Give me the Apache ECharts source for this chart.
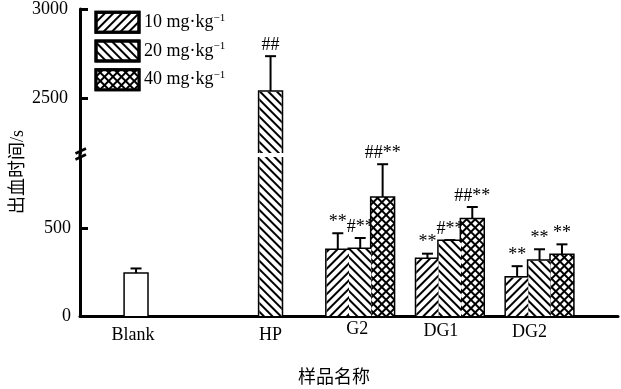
<!DOCTYPE html>
<html><head><meta charset="utf-8">
<script src="https://cdn.jsdelivr.net/npm/echarts@6/dist/echarts.min.js"></script>
<style>html,body{margin:0;padding:0;background:#fff}#c{width:621px;height:389px}</style>
</head><body><div id="c"></div>
<script>
// ---------- data ----------
const groups = ['Blank', 'HP', 'G2', 'DG1', 'DG2'];
const doseNames = ['10 mg·kg⁻¹', '20 mg·kg⁻¹', '40 mg·kg⁻¹'];
const blankValue = [240];
const blankError = [30];
const hpValue = [2535];          // 20 mg·kg⁻¹
const hpError = [200];
const hpSig = ['##'];
const g2Value = [375, 381, 672];
const g2Error = [95, 62, 190];
const g2Sig = ['**', '#**', '##**'];
const dg1Value = [324, 426, 549];
const dg1Error = [30, 5, 70];
const dg1Sig = ['**', '#**', '##**'];
const dg2Value = [218, 314, 347];
const dg2Error = [65, 65, 60];
const dg2Sig = ['**', '**', '**'];
const yTicksHigh = [2500, 3000];
const yTicksLow = [0, 500];
const xTitle = '样品名称';
const yTitle = '出血时间/s';

// ---------- layout helpers ----------
const SLOTS = 24;
const groupSlot = { Blank: 2, HP: 8, G2: 12, DG1: 16, DG2: 20 };
const labelNudge = { Blank: [-3, 6], HP: [0, 6], G2: [-3, 0], DG1: [-9, 2], DG2: [-10, 3] };
const font = '"Liberation Serif", "Times New Roman", "Noto Sans CJK SC", serif';

const records = []; // {slot, value, err, sig, series}
records.push({ slot: groupSlot.Blank, value: blankValue[0], err: blankError[0], sig: '', series: -1 });
records.push({ slot: groupSlot.HP, value: hpValue[0], err: hpError[0], sig: hpSig[0], series: 1 });
[['G2', g2Value, g2Error, g2Sig], ['DG1', dg1Value, dg1Error, dg1Sig], ['DG2', dg2Value, dg2Error, dg2Sig]]
  .forEach(([g, vals, errs, sigs]) => vals.forEach((v, d) =>
    records.push({ slot: groupSlot[g] + d - 1, value: v, err: errs[d], sig: sigs[d], series: d })));

function seriesData(sIdx) {
  const arr = new Array(SLOTS).fill(null);
  records.forEach(r => { if (r.series === sIdx) arr[r.slot] = r.value; });
  return arr;
}
const cats = new Array(SLOTS).fill('');
const catsLabeled = cats.map((c, i) => {
  const g = groups.find(k => groupSlot[k] === i);
  if (!g) return '';
  const [dx, dy] = labelNudge[g];
  return { value: g, textStyle: { padding: [Math.max(dy, 0), dx < 0 ? -2 * dx : 0, 0, dx > 0 ? 2 * dx : 0] } };
});

const decals = [
  { symbol: 'rect', symbolSize: 1, color: '#000', dashArrayX: [1, 0], dashArrayY: [2, 4], rotation: -Math.PI / 4 },
  { symbol: 'rect', symbolSize: 1, color: '#000', dashArrayX: [1, 0], dashArrayY: [2, 4], rotation: Math.PI / 4 },
  { symbol: 'rect', symbolSize: 1, color: '#fff', dashArrayX: [4, 2], dashArrayY: [4, 2], rotation: Math.PI / 4 }
];
const fills = ['#fff', '#fff', '#000'];

function renderOutline(params, api) {
  const rect = params.coordSys;
  const slot = api.value(0), v = api.value(1);
  const top = api.coord([slot, v]);
  const base = api.coord([slot, 0]);
  const band = api.size([1, 0])[0];
  const gTop = rect.y, gBot = rect.y + rect.height;
  if (top[1] > gBot || base[1] < gTop) return null;
  const yT = Math.max(top[1], gTop), yB = Math.min(base[1], gBot);
  const l = top[0] - band / 2, r = top[0] + band / 2;
  const st = { stroke: '#000', lineWidth: 3, fill: null };
  const ch = [];
  if (top[1] >= gTop) {
    ch.push({ type: 'polyline', shape: { points: [[l, yB], [l, yT], [r, yT], [r, yB]] }, style: st });
  } else {
    ch.push({ type: 'line', shape: { x1: l, y1: yB, x2: l, y2: yT }, style: st });
    ch.push({ type: 'line', shape: { x1: r, y1: yB, x2: r, y2: yT }, style: st });
  }
  return { type: 'group', children: ch };
}
function renderErr(params, api) {
  const rect = params.coordSys;
  const slot = api.value(0), v = api.value(1), e = api.value(2), ri = api.value(3);
  const mid = api.coord([slot, v]);
  if (mid[1] < rect.y - 1 || mid[1] > rect.y + rect.height + 1) return null;
  const top = api.coord([slot, v + e]);
  const bot = api.coord([slot, v - e]);
  const x = mid[0], cap = 5.5;
  const st = { stroke: '#000', lineWidth: 2 };
  const ch = [
    { type: 'line', shape: { x1: x, y1: top[1], x2: x, y2: bot[1] }, style: st },
    { type: 'line', shape: { x1: x - cap, y1: top[1], x2: x + cap, y2: top[1] }, style: st },
    { type: 'line', shape: { x1: x - cap, y1: bot[1], x2: x + cap, y2: bot[1] }, style: st }
  ];
  const sig = records[ri].sig;
  if (sig) ch.push({ type: 'text', x: x, y: top[1] - 2,
    style: { text: sig, align: 'center', verticalAlign: 'bottom', fontSize: 18, fontFamily: font, fill: '#000' } });
  return { type: 'group', children: ch };
}

const series = [];
[0, 1].forEach(g => {
  series.push({ type: 'bar', name: 'Blank', xAxisIndex: g, yAxisIndex: g, data: seriesData(-1),
    barWidth: '100%', barGap: '-100%', itemStyle: { color: '#fff', borderWidth: 0 }, silent: true });
  doseNames.forEach((n, d) => series.push({ type: 'bar', name: n, xAxisIndex: g, yAxisIndex: g, data: seriesData(d),
    barWidth: '100%', barGap: '-100%', itemStyle: { color: fills[d], decal: decals[d], borderWidth: 0 }, silent: true }));
  series.push({ type: 'custom', xAxisIndex: g, yAxisIndex: g, renderItem: renderOutline, silent: true,
    data: records.map(r => [r.slot, r.value]) });
  series.push({ type: 'custom', xAxisIndex: g, yAxisIndex: g, renderItem: renderErr, silent: true,
    data: records.map((r, i) => [r.slot, r.value, r.err, i]) });
});

const axisLabelStyle = { color: '#000', fontSize: 18, fontFamily: font, formatter: v => String(v) };
const option = {
  animation: false,
  backgroundColor: '#fff',
  grid: [
    { left: 80, right: 3, top: 9, height: 144 },
    { left: 80, right: 3, top: 157, height: 159 }
  ],
  xAxis: [
    { gridIndex: 0, type: 'category', data: cats, show: false },
    { gridIndex: 1, type: 'category', data: catsLabeled,
      axisLine: { lineStyle: { color: '#000', width: 3 } },
      axisTick: { inside: true, length: 7, interval: 3, lineStyle: { color: '#000', width: 3 } },
      axisLabel: { interval: 0, margin: 4, color: '#000', fontSize: 18, fontFamily: font } }
  ],
  yAxis: [
    { gridIndex: 0, type: 'value', min: 2191, max: 3000,
      axisLine: { show: true, lineStyle: { color: '#000', width: 3 } },
      axisTick: { show: true, inside: true, length: 8, customValues: yTicksHigh, lineStyle: { color: '#000', width: 3 } },
      axisLabel: Object.assign({ customValues: yTicksHigh, margin: 12 }, axisLabelStyle),
      splitLine: { show: false } },
    { gridIndex: 1, type: 'value', min: 0, max: 903,
      axisLine: { show: true, lineStyle: { color: '#000', width: 3 } },
      axisTick: { show: true, inside: true, length: 8, customValues: yTicksLow, lineStyle: { color: '#000', width: 3 } },
      axisLabel: Object.assign({ customValues: yTicksLow, margin: 9 }, axisLabelStyle),
      splitLine: { show: false } }
  ],
  legend: {
    data: doseNames, orient: 'vertical', left: 94.5, top: 10.8, padding: 0,
    itemWidth: 43, itemHeight: 20, itemGap: 5.7, itemTextGap: 7, icon: 'rect', selectedMode: false,
    itemStyle: { borderColor: '#000', borderWidth: 3 },
    formatter: n => '{t|' + n.replace('⁻¹', '') + '}{s|−1}',
    textStyle: { color: '#000', fontFamily: font, fontSize: 18,
      rich: { t: { fontSize: 18, lineHeight: 20, fontFamily: font, color: '#000' },
              s: { fontSize: 11, lineHeight: 12, verticalAlign: 'top', fontFamily: font, color: '#000' } } }
  },
  graphic: [
    { type: 'text', x: 18, y: 172, rotation: Math.PI / 2,
      style: { text: yTitle, fontSize: 18, fontFamily: font, fill: '#000', align: 'center', verticalAlign: 'middle' } },
    { type: 'text', x: 334, y: 378,
      style: { text: xTitle, fontSize: 18, fontFamily: font, fill: '#000', align: 'center', verticalAlign: 'middle' } },
    { type: 'line', shape: { x1: 80, y1: 152, x2: 80, y2: 158 }, style: { stroke: '#000', lineWidth: 3 } },
    { type: 'line', shape: { x1: 75.5, y1: 153.5, x2: 86, y2: 148.5 }, style: { stroke: '#000', lineWidth: 2.5 } },
    { type: 'line', shape: { x1: 75.5, y1: 159.5, x2: 86, y2: 154.5 }, style: { stroke: '#000', lineWidth: 2.5 } }
  ],
  series: series
};
const chart = echarts.init(document.getElementById('c'), null, { renderer: 'canvas' });
chart.setOption(option);
</script></body></html>
